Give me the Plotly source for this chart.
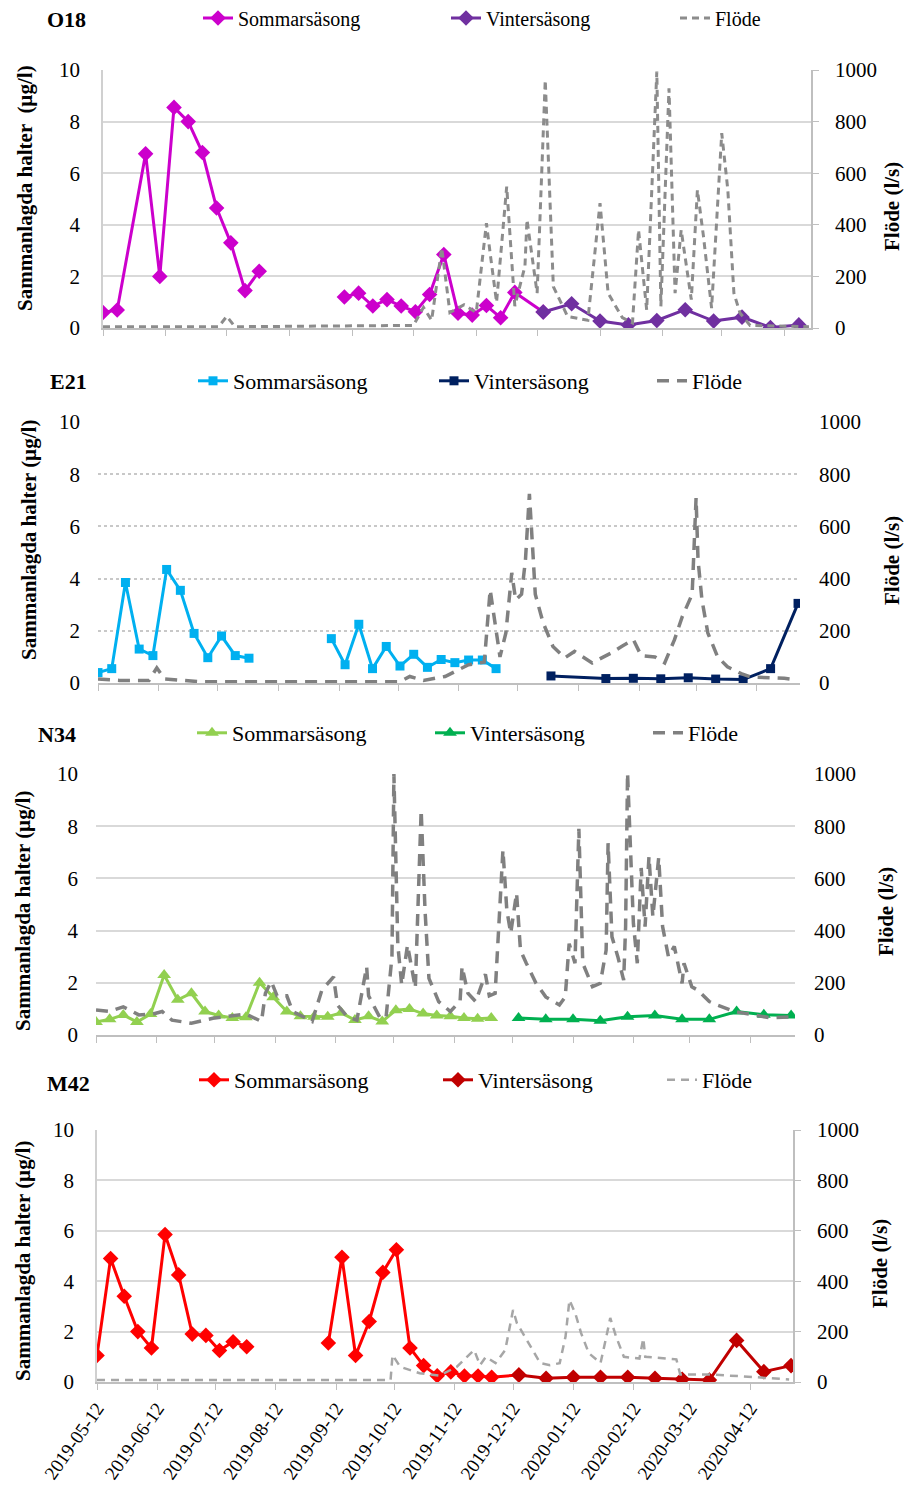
import plotly.graph_objects as go

W, H = 906, 1488
FONT = "Liberation Serif"

# ---------------- shared x ticks ----------------
tick_dates = ["2019-05-12", "2019-06-12", "2019-07-12", "2019-08-12", "2019-09-12", "2019-10-12",
              "2019-11-12", "2019-12-12", "2020-01-12", "2020-02-12", "2020-03-12", "2020-04-12"]
tick_labels = list(tick_dates)

# ---------------- O18 ----------------
o18_sommar_dates = ["2019-05-12", "2019-05-19", "2019-06-02", "2019-06-09", "2019-06-16", "2019-06-23",
                    "2019-06-30", "2019-07-07", "2019-07-14", "2019-07-21", "2019-07-28", None,
                    "2019-09-08", "2019-09-15", "2019-09-22", "2019-09-29", "2019-10-06", "2019-10-13",
                    "2019-10-20", "2019-10-27", "2019-11-03", "2019-11-10", "2019-11-17", "2019-11-24",
                    "2019-12-01", "2019-12-15"]
o18_sommar_vals = [0.6, 0.7, 6.75, 2.0, 8.55, 8.0, 6.8, 4.65, 3.3, 1.45, 2.2, None,
                   1.2, 1.35, 0.85, 1.1, 0.85, 0.63, 1.3, 2.85, 0.57, 0.5, 0.87, 0.4, 1.38, 0.62]
o18_vinter_dates = ["2019-12-15", "2019-12-29", "2020-01-12", "2020-01-26", "2020-02-09", "2020-02-23",
                    "2020-03-08", "2020-03-22", "2020-04-05", "2020-04-19"]
o18_vinter_vals = [0.62, 0.94, 0.27, 0.12, 0.29, 0.71, 0.27, 0.42, 0.02, 0.12]
o18_flow_dates = ["2019-05-12", "2019-07-08", "2019-07-12", "2019-07-16", "2019-10-12", "2019-10-17",
                  "2019-10-21", "2019-10-26", "2019-10-30", "2019-11-06", "2019-11-12", "2019-11-17",
                  "2019-11-19", "2019-11-22", "2019-11-27", "2019-12-01", "2019-12-06", "2019-12-07",
                  "2019-12-12", "2019-12-16", "2019-12-20", "2019-12-23", "2019-12-27", "2020-01-06",
                  "2020-01-12", "2020-01-16", "2020-01-23", "2020-01-28", "2020-01-31", "2020-02-04",
                  "2020-02-09", "2020-02-11", "2020-02-15", "2020-02-18", "2020-02-21", "2020-02-26",
                  "2020-02-29", "2020-03-03", "2020-03-07", "2020-03-12", "2020-03-15", "2020-03-18",
                  "2020-03-21", "2020-03-26", "2020-04-24"]
o18_flow_vals = [5, 5, 45, 5, 10, 80, 30, 310, 60, 90, 60, 406,
                 280, 100, 548, 85, 240, 420, 135, 961, 160, 110, 45, 30,
                 484, 135, 40, 20, 380, 70, 994, 84, 929, 135, 380, 110,
                 535, 355, 77, 755, 535, 135, 58, 10, 5]

# ---------------- E21 ----------------
e21_sommar_dates = ["2019-05-12", "2019-05-19", "2019-05-26", "2019-06-02", "2019-06-09", "2019-06-16",
                    "2019-06-23", "2019-06-30", "2019-07-07", "2019-07-14", "2019-07-21", "2019-07-28", None,
                    "2019-09-08", "2019-09-15", "2019-09-22", "2019-09-29", "2019-10-06", "2019-10-13",
                    "2019-10-20", "2019-10-27", "2019-11-03", "2019-11-10", "2019-11-17", "2019-11-24",
                    "2019-12-01"]
e21_sommar_vals = [0.4, 0.55, 3.85, 1.3, 1.05, 4.35, 3.55, 1.9, 0.97, 1.8, 1.05, 0.95, None,
                   1.7, 0.7, 2.25, 0.55, 1.4, 0.65, 1.1, 0.6, 0.9, 0.78, 0.88, 0.88, 0.55]
e21_vinter_dates = ["2019-12-29", "2020-01-26", "2020-02-09", "2020-02-23", "2020-03-08", "2020-03-22",
                    "2020-04-05", "2020-04-19", "2020-05-03"]
e21_vinter_vals = [0.27, 0.17, 0.18, 0.16, 0.2, 0.15, 0.13, 0.55, 3.05]
e21_flow_dates = ["2019-05-12", "2019-05-23", "2019-06-07", "2019-06-11", "2019-06-15", "2019-07-03",
                  "2019-10-13", "2019-10-18", "2019-10-25", "2019-11-05", "2019-11-17", "2019-11-25",
                  "2019-11-28", "2019-12-03", "2019-12-06", "2019-12-09", "2019-12-11", "2019-12-14",
                  "2019-12-16", "2019-12-18", "2019-12-20", "2019-12-21", "2019-12-25", "2019-12-30",
                  "2020-01-05", "2020-01-10", "2020-01-19", "2020-01-29", "2020-02-03", "2020-02-09",
                  "2020-02-13", "2020-02-20", "2020-02-25", "2020-03-01", "2020-03-05", "2020-03-10",
                  "2020-03-12", "2020-03-13", "2020-03-15", "2020-03-18", "2020-03-23", "2020-03-28",
                  "2020-04-04", "2020-04-09", "2020-04-26", "2020-05-02"]
e21_flow_vals = [15, 10, 10, 58, 15, 5, 5, 25, 10, 25, 70, 80,
                 357, 100, 192, 422, 318, 340, 472, 725, 472, 340, 231, 140,
                 96, 121, 77, 116, 140, 166, 105, 100, 77, 166, 255, 340,
                 709, 472, 318, 192, 100, 62, 36, 23, 18, 12]

# ---------------- N34 ----------------
n34_sommar_dates = ["2019-05-12", "2019-05-19", "2019-05-26", "2019-06-02", "2019-06-09", "2019-06-16",
                    "2019-06-23", "2019-06-30", "2019-07-07", "2019-07-14", "2019-07-21", "2019-07-28",
                    "2019-08-04", "2019-08-11", "2019-08-18", "2019-08-25", "2019-09-01", "2019-09-08",
                    "2019-09-15", "2019-09-22", "2019-09-29", "2019-10-06", "2019-10-13", "2019-10-20",
                    "2019-10-27", "2019-11-03", "2019-11-10", "2019-11-17", "2019-11-24", "2019-12-01"]
n34_sommar_vals = [0.5, 0.6, 0.77, 0.5, 0.8, 2.3, 1.35, 1.6, 0.9, 0.75, 0.65, 0.68,
                   2.0, 1.45, 0.9, 0.72, 0.7, 0.7, 0.85, 0.57, 0.72, 0.52, 0.95, 1.0,
                   0.82, 0.75, 0.72, 0.65, 0.62, 0.65]
n34_vinter_dates = ["2019-12-15", "2019-12-29", "2020-01-12", "2020-01-26", "2020-02-09", "2020-02-23",
                    "2020-03-08", "2020-03-22", "2020-04-05", "2020-04-19", "2020-05-03"]
n34_vinter_vals = [0.65, 0.6, 0.6, 0.55, 0.7, 0.75, 0.6, 0.6, 0.9, 0.78, 0.75]
n34_flow_dates = ["2019-05-12", "2019-05-19", "2019-05-26", "2019-06-03", "2019-06-10", "2019-06-15",
                  "2019-06-20", "2019-06-30", "2019-07-11", "2019-07-19", "2019-07-28", "2019-08-05",
                  "2019-08-07", "2019-08-10", "2019-08-13", "2019-08-18", "2019-08-21", "2019-08-28",
                  "2019-08-31", "2019-09-05", "2019-09-11", "2019-09-13", "2019-09-18", "2019-09-23",
                  "2019-09-28", "2019-09-29", "2019-10-05", "2019-10-08", "2019-10-11", "2019-10-12",
                  "2019-10-14", "2019-10-16", "2019-10-19", "2019-10-23", "2019-10-26", "2019-10-28",
                  "2019-10-30", "2019-11-04", "2019-11-10", "2019-11-15", "2019-11-16", "2019-11-19",
                  "2019-11-23", "2019-11-28", "2019-11-30", "2019-12-03", "2019-12-07", "2019-12-09",
                  "2019-12-11", "2019-12-14", "2019-12-16", "2019-12-19", "2019-12-24", "2019-12-29",
                  "2020-01-05", "2020-01-08", "2020-01-10", "2020-01-13", "2020-01-15", "2020-01-17",
                  "2020-01-22", "2020-01-26", "2020-01-29", "2020-01-30", "2020-02-01", "2020-02-04",
                  "2020-02-07", "2020-02-08", "2020-02-09", "2020-02-12", "2020-02-14", "2020-02-16",
                  "2020-02-18", "2020-02-20", "2020-02-22", "2020-02-25", "2020-02-27", "2020-03-01",
                  "2020-03-04", "2020-03-08", "2020-03-09", "2020-03-13", "2020-03-16", "2020-03-22",
                  "2020-03-26", "2020-04-04", "2020-04-13", "2020-04-22", "2020-05-04"]
n34_flow_vals = [96, 90, 108, 77, 80, 90, 57, 45, 64, 70, 80, 52,
                 160, 205, 150, 150, 90, 64, 52, 172, 223, 115, 70, 57,
                 262, 150, 64, 70, 300, 1000, 345, 192, 345, 180, 862, 475,
                 217, 128, 90, 130, 262, 160, 128, 233, 150, 160, 709, 478,
                 390, 544, 325, 275, 198, 146, 115, 146, 350, 275, 790, 275,
                 185, 198, 325, 735, 376, 300, 210, 415, 1004, 428, 275, 640,
                 415, 684, 453, 680, 415, 300, 340, 198, 275, 185, 172, 128,
                 115, 90, 77, 66, 70]

# ---------------- M42 ----------------
m42_sommar_dates = ["2019-05-12", "2019-05-19", "2019-05-26", "2019-06-02", "2019-06-09", "2019-06-16",
                    "2019-06-23", "2019-06-30", "2019-07-07", "2019-07-14", "2019-07-21", "2019-07-28", None,
                    "2019-09-08", "2019-09-15", "2019-09-22", "2019-09-29", "2019-10-06", "2019-10-13",
                    "2019-10-20", "2019-10-27", "2019-11-03", "2019-11-10", "2019-11-17", "2019-11-24",
                    "2019-12-01", "2019-12-15"]
m42_sommar_vals = [1.05, 4.9, 3.4, 2.0, 1.35, 5.85, 4.25, 1.9, 1.85, 1.25, 1.6, 1.4, None,
                   1.55, 4.95, 1.05, 2.4, 4.35, 5.25, 1.35, 0.65, 0.25, 0.4, 0.24, 0.24,
                   0.19, 0.28]
m42_vinter_dates = ["2019-12-15", "2019-12-29", "2020-01-12", "2020-01-26", "2020-02-09", "2020-02-23",
                    "2020-03-08", "2020-03-22", "2020-04-05", "2020-04-19", "2020-05-03"]
m42_vinter_vals = [0.28, 0.15, 0.19, 0.19, 0.19, 0.15, 0.11, 0.08, 1.65, 0.41, 0.65]
m42_flow_dates = ["2019-05-12", "2019-10-10", "2019-10-11", "2019-10-15", "2019-10-25", "2019-11-04",
                  "2019-11-13", "2019-11-22", "2019-11-25", "2019-11-28", "2019-12-03", "2019-12-08",
                  "2019-12-12", "2019-12-14", "2019-12-17", "2019-12-21", "2019-12-26", "2019-12-31",
                  "2020-01-05", "2020-01-08", "2020-01-10", "2020-01-13", "2020-01-16", "2020-01-20",
                  "2020-01-26", "2020-01-29", "2020-01-31", "2020-02-03", "2020-02-07", "2020-02-15",
                  "2020-02-17", "2020-02-18", "2020-03-05", "2020-03-07", "2020-03-22", "2020-04-13",
                  "2020-05-02"]
m42_flow_vals = [8, 8, 107, 60, 35, 25, 60, 127, 67, 100, 75, 127,
                 286, 233, 194, 140, 75, 67, 75, 180, 325, 273, 194, 114,
                 75, 180, 254, 180, 100, 93, 173, 100, 90, 30, 30, 20,
                 10]

# ---------------- panel configuration (layout only) ----------------
panels = [
    dict(name="O18", data=(o18_sommar_dates, o18_sommar_vals, o18_vinter_dates, o18_vinter_vals,
                           o18_flow_dates, o18_flow_vals),
         box=(103, 811, 70, 328), xend="2020-04-25",
         c1="#CC00CC", c2="#7030A0", sym="diamond", msize=12,
         fcol="#8C8C8C", fdash="7px,5px", fwidth=3,
         framed=True, grid="#D9D9D9", griddash="solid",
         title_xy=(66, 19), ytitle="Sammanlagda halter  (µg/l)", ytitle_xy=(25, 188),
         rtitle_xy=(892, 207), legend_y=18, legend_x=(238, 486, 715), lfont=20),
    dict(name="E21", data=(e21_sommar_dates, e21_sommar_vals, e21_vinter_dates, e21_vinter_vals,
                           e21_flow_dates, e21_flow_vals),
         box=(98, 800, 422, 683), xend="2020-05-04",
         c1="#00B0F0", c2="#002060", sym="square", msize=9,
         fcol="#808080", fdash="12px,8px", fwidth=3.5,
         framed=False, grid="#C8C8C8", griddash="dot",
         title_xy=(68, 381), ytitle="Sammanlagda halter (µg/l)", ytitle_xy=(29, 540),
         rtitle_xy=(892, 561), legend_y=381, legend_x=(233, 474, 692), lfont=22),
    dict(name="N34", data=(n34_sommar_dates, n34_sommar_vals, n34_vinter_dates, n34_vinter_vals,
                           n34_flow_dates, n34_flow_vals),
         box=(96, 795, 774, 1035), xend="2020-05-05",
         c1="#92D050", c2="#00B050", sym="triangle-up", msize=12,
         fcol="#808080", fdash="12px,8px", fwidth=3.5,
         framed=False, grid="#D9D9D9", griddash="solid",
         title_xy=(57, 734), ytitle="Sammanlagda halter (µg/l)", ytitle_xy=(23, 911),
         rtitle_xy=(886, 912), legend_y=733, legend_x=(232, 470, 688), lfont=22),
    dict(name="M42", data=(m42_sommar_dates, m42_sommar_vals, m42_vinter_dates, m42_vinter_vals,
                           m42_flow_dates, m42_flow_vals),
         box=(97, 793, 1130, 1382), xend="2020-05-04",
         c1="#FF0000", c2="#C00000", sym="diamond", msize=12,
         fcol="#A6A6A6", fdash="8px,6px", fwidth=2.5,
         framed=True, grid="#D9D9D9", griddash="solid",
         title_xy=(68, 1083), ytitle="Sammanlagda halter (µg/l)", ytitle_xy=(23, 1261),
         rtitle_xy=(880, 1264), legend_y=1080, legend_x=(234, 478, 702), lfont=22),
]


def px(x):
    return x / W


def py(y):
    return 1 - y / H


fig = go.Figure()
layout = dict(
    template="none",
    width=W, height=H, margin=dict(l=0, r=0, t=0, b=0, autoexpand=False),
    paper_bgcolor="white", plot_bgcolor="white", showlegend=True,
    font=dict(family=FONT, color="black", size=20),
    annotations=[],
)

leg_idx = 0
for i, p in enumerate(panels):
    n = i + 1
    xa = "x" if n == 1 else f"x{n}"
    yl = 2 * n - 1
    yr = 2 * n
    yla = "y" if yl == 1 else f"y{yl}"
    yra = f"y{yr}"
    sd, sv, vd, vv, fd, fv = p["data"]
    names = ["Sommarsäsong", "Vintersäsong", "Flöde"]
    legs = []
    for k in range(3):
        leg_idx += 1
        legs.append("legend" if leg_idx == 1 else f"legend{leg_idx}")
    fig.add_trace(go.Scatter(
        x=sd, y=sv, name=names[0], mode="lines+markers", xaxis=xa, yaxis=yla, showlegend=True,
        line=dict(color=p["c1"], width=3), marker=dict(symbol=p["sym"], size=p["msize"], color=p["c1"]),
        legend=legs[0], connectgaps=False))
    fig.add_trace(go.Scatter(
        x=vd, y=vv, name=names[1], mode="lines+markers", xaxis=xa, yaxis=yla, showlegend=True,
        line=dict(color=p["c2"], width=3), marker=dict(symbol=p["sym"], size=p["msize"], color=p["c2"]),
        legend=legs[1]))
    fig.add_trace(go.Scatter(
        x=fd, y=fv, name=names[2], mode="lines", xaxis=xa, yaxis=yra, showlegend=True,
        line=dict(color=p["fcol"], width=p["fwidth"], dash=p["fdash"]),
        legend=legs[2]))

    L, R, T, B = p["box"]
    xkey = "xaxis" if n == 1 else f"xaxis{n}"
    ylkey = "yaxis" if yl == 1 else f"yaxis{yl}"
    yrkey = f"yaxis{yr}"
    layout[xkey] = dict(
        domain=[px(L), px(R)], anchor=yla, type="date", automargin=False,
        range=["2019-05-12", p["xend"]],
        tickmode="array", tickvals=tick_dates, ticktext=tick_labels,
        showticklabels=(n == 4), tickangle=-55,
        tickfont=dict(family=FONT, size=19, color="black"),
        ticks="outside", ticklen=6, tickcolor="#BFBFBF", tickwidth=1,
        showline=True, linecolor="#BFBFBF", linewidth=1.5,
        showgrid=False, zeroline=False, fixedrange=True,
    )
    layout[ylkey] = dict(
        domain=[py(B), py(T)], anchor=xa, range=[0, 10], dtick=2, tick0=0, automargin=False,
        showgrid=True, gridcolor=p["grid"], gridwidth=1.5, griddash=p["griddash"],
        zeroline=False, showline=p["framed"], linecolor="#D0D0D0", linewidth=1.5,
        ticks="", ticklabelstandoff=17,
        tickfont=dict(family=FONT, size=21, color="black"),
    )
    layout[yrkey] = dict(
        domain=[py(B), py(T)], anchor=xa, overlaying=yla, side="right", automargin=False,
        range=[0, 1000], dtick=200, tick0=0, showgrid=False, zeroline=False,
        showline=p["framed"], linecolor="#BFBFBF", linewidth=1.5,
        ticks="outside" if p["framed"] else "", ticklen=6, tickcolor="#BFBFBF",
        ticklabelstandoff=12 if p["framed"] else 18,
        tickfont=dict(family=FONT, size=21, color="black"),
    )

    # legends, one per item
    for k in range(3):
        lk = legs[k]
        layout[lk] = dict(
            x=px(p["legend_x"][k] - 40), y=py(p["legend_y"]), xanchor="left", yanchor="middle",
            orientation="h", bgcolor="rgba(0,0,0,0)", borderwidth=0, visible=True,
            font=dict(family=FONT, size=p["lfont"], color="black"),
            itemclick=False, itemdoubleclick=False,
        )

    tx, ty = p["title_xy"]
    layout["annotations"].append(dict(
        text=f"<b>{p['name']}</b>", x=px(tx), y=py(ty), xref="paper", yref="paper",
        showarrow=False, font=dict(family=FONT, size=22, color="black"),
        xanchor="center", yanchor="middle"))
    ax_, ay_ = p["ytitle_xy"]
    layout["annotations"].append(dict(
        text=f"<b>{p['ytitle']}</b>", x=px(ax_), y=py(ay_), xref="paper", yref="paper",
        showarrow=False, textangle=-90, font=dict(family=FONT, size=21, color="black"),
        xanchor="center", yanchor="middle"))
    rx, ry = p["rtitle_xy"]
    layout["annotations"].append(dict(
        text="<b>Flöde (l/s)</b>", x=px(rx), y=py(ry), xref="paper", yref="paper",
        showarrow=False, textangle=-90, font=dict(family=FONT, size=21, color="black"),
        xanchor="center", yanchor="middle"))

fig.update_layout(**layout)
fig.write_html("out.html")
